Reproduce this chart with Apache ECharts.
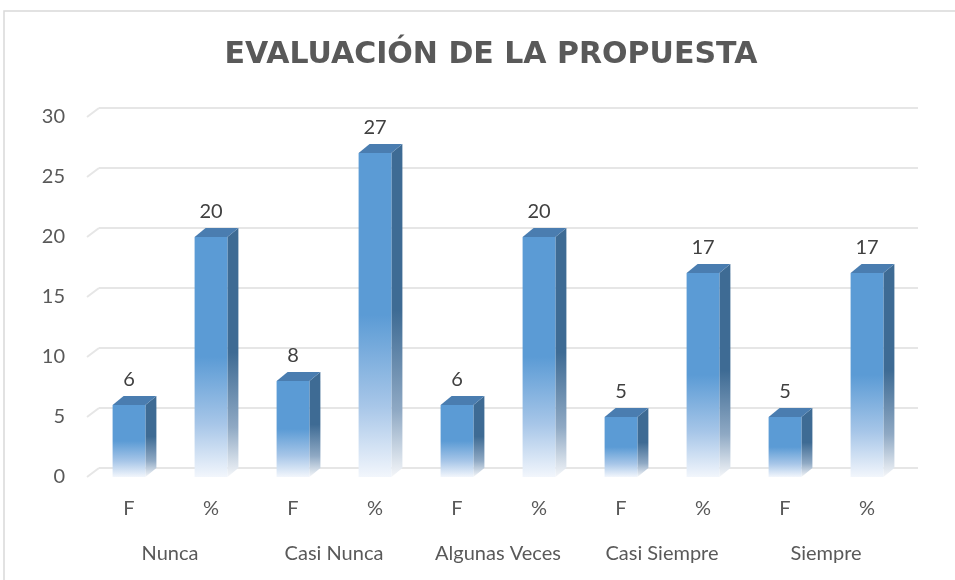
<!DOCTYPE html>
<html><head><meta charset="utf-8">
<script src="https://cdn.jsdelivr.net/npm/echarts@6/dist/echarts.min.js"></script>
<style>html,body{margin:0;padding:0;background:#fff}#c{width:955px;height:580px}</style>
</head><body><div id="c"></div>
<script>
const title = 'EVALUACIÓN DE LA PROPUESTA';
const groups = ['Nunca', 'Casi Nunca', 'Algunas Veces', 'Casi Siempre', 'Siempre'];
const subLabels = ['F', '%', 'F', '%', 'F', '%', 'F', '%', 'F', '%'];
const values = [6, 20, 8, 27, 6, 20, 5, 17, 5, 17];
const yTicks = [0, 5, 10, 15, 20, 25, 30];

const DX = 11, DY = 9;
const font = 'Lato, "Open Sans", sans-serif';
const chart = echarts.init(document.getElementById('c'));

function frontGrad() {
  return new echarts.graphic.LinearGradient(0, 0, 0, 1, [
    {offset: 0, color: '#5B9BD5'}, {offset: 0.5, color: '#5B9BD5'},
    {offset: 0.78, color: '#A7C6E8'}, {offset: 1, color: '#F2F6FC'}]);
}
function sideGrad() {
  return new echarts.graphic.LinearGradient(0, 0, 0, 1, [
    {offset: 0, color: '#3E6B94'}, {offset: 0.5, color: '#3E6B94'},
    {offset: 0.8, color: '#8FA9C4'}, {offset: 1, color: '#F4F6F9'}]);
}

chart.setOption({
  animation: false,
  title: {text: title, left: 486, textAlign: 'center', top: 35,
    textStyle: {fontFamily: '"DejaVu Sans", sans-serif', fontWeight: 'bold', fontSize: 30, color: '#595959'}},
  graphic: [{type: 'rect', shape: {x: 4, y: 11, width: 1000, height: 700},
    style: {fill: 'none', stroke: '#D9D9D9', lineWidth: 1.5}, silent: true, z: -10}],
  grid: [
    {left: 88, top: 117, width: 820, height: 360},
    {left: 99, top: 108, width: 819, height: 360}
  ],
  xAxis: [
    {type: 'category', gridIndex: 0, data: subLabels, axisLine: {show: false}, axisTick: {show: false},
      axisLabel: {color: '#595959', fontSize: 20, fontFamily: font, margin: 22}},
    {type: 'category', gridIndex: 0, data: groups, position: 'bottom', offset: 45,
      axisLine: {show: false}, axisTick: {show: false},
      axisLabel: {color: '#595959', fontSize: 20, fontFamily: font, margin: 22}},
    {type: 'category', gridIndex: 1, data: subLabels, show: false}
  ],
  yAxis: [
    {type: 'value', gridIndex: 0, min: 0, max: 30, interval: 5, splitLine: {show: false},
      axisLine: {show: false}, axisTick: {show: false},
      axisLabel: {color: '#595959', fontSize: 20, fontFamily: font, margin: 23}},
    {type: 'value', gridIndex: 1, min: 0, max: 30, interval: 5, axisLabel: {show: false},
      axisLine: {show: false}, axisTick: {show: false},
      splitLine: {lineStyle: {color: '#E6E6E6', width: 2}}}
  ],
  series: [
    {
      type: 'custom', xAxisIndex: 0, yAxisIndex: 0, z: 1, silent: true,
      data: yTicks.map(v => [0, v]),
      renderItem: function (params, api) {
        const y = api.coord([0, api.value(1)])[1];
        const x0 = params.coordSys.x;
        return {type: 'line', shape: {x1: x0 - 1, y1: y, x2: x0 + DX, y2: y - DY},
          style: {stroke: '#E6E6E6', lineWidth: 2}};
      }
    },
    {
      type: 'custom', xAxisIndex: 0, yAxisIndex: 0, z: 5,
      data: values.map((v, i) => [i, v]),
      renderItem: function (params, api) {
        const i = api.value(0), v = api.value(1);
        const t = api.coord([i, v]);
        const b = api.coord([i, 0]);
        const bw = api.size([1, 0])[0] * 0.4;
        const l = t[0] - bw / 2, r = t[0] + bw / 2;
        return {type: 'group', children: [
          {type: 'polygon', shape: {points: [[r, t[1]], [r + DX, t[1] - DY], [r + DX, b[1] - DY], [r, b[1]]]},
            style: {fill: sideGrad()}},
          {type: 'rect', shape: {x: l, y: t[1], width: bw, height: b[1] - t[1]},
            style: {fill: frontGrad()}},
          {type: 'polygon', shape: {points: [[l, t[1]], [l + DX, t[1] - DY], [r + DX, t[1] - DY], [r, t[1]]]},
            style: {fill: '#4A7DB0'}},
          {type: 'text', x: t[0], y: t[1] - 25,
            style: {text: String(v), align: 'center', verticalAlign: 'middle',
              fill: '#404040', fontSize: 20, fontFamily: font}}
        ]};
      }
    }
  ]
});
</script></body></html>
